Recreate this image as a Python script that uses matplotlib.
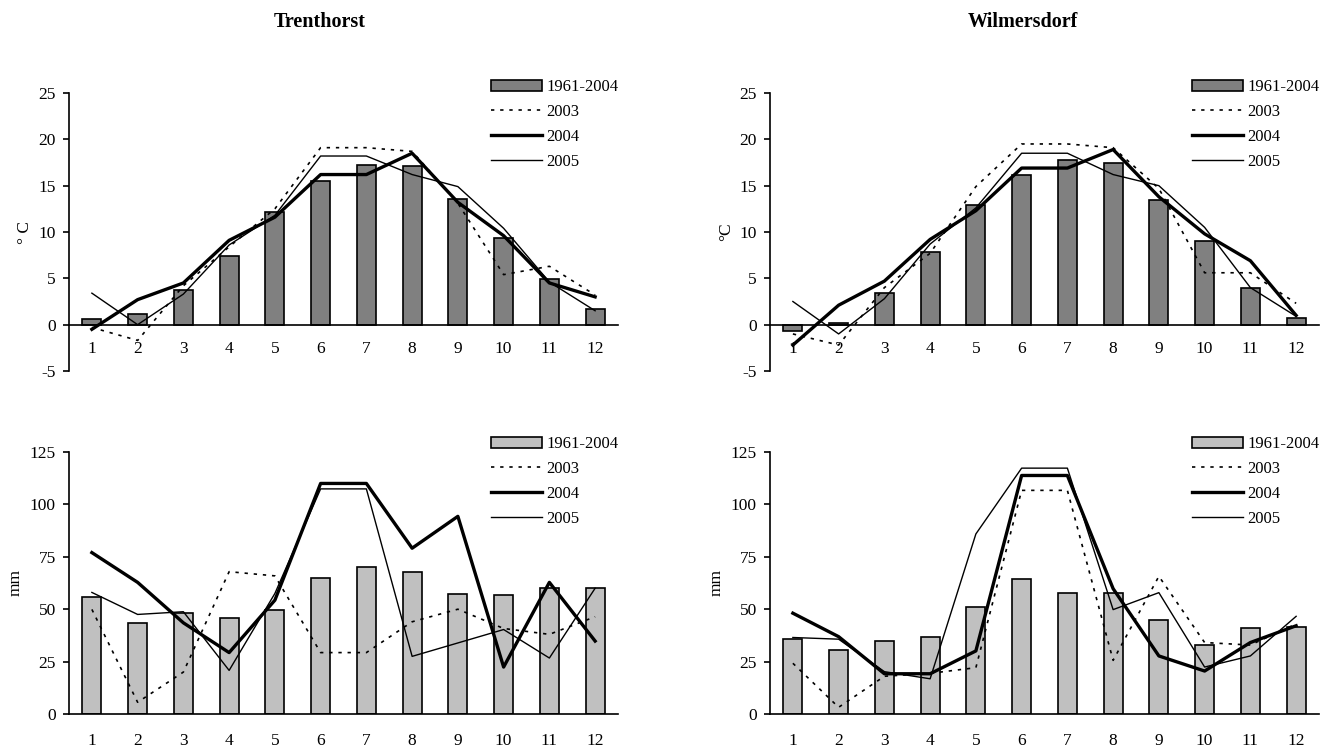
import numpy as np
import matplotlib
matplotlib.use("Agg")
import matplotlib.pyplot as plt

plt.rcParams["font.family"] = ["Liberation Serif", "DejaVu Serif"]
plt.rcParams["font.size"] = 12.5
plt.rcParams["axes.unicode_minus"] = False

# Monatswerte
months = list(range(1, 13))

# Temperatur (°C)
tre_temp_mean = [0.65, 1.1, 3.7, 7.4, 12.2, 15.5, 17.2, 17.1, 13.6, 9.3, 4.9, 1.7]
tre_temp_2003 = [-0.3, -1.7, 4.2, 8.4, 12.5, 19.1, 19.1, 18.7, 13.1, 5.4, 6.3, 3.2]
tre_temp_2004 = [-0.5, 2.7, 4.5, 9.1, 11.6, 16.2, 16.2, 18.5, 13.2, 9.6, 4.5, 3.0]
tre_temp_2005 = [3.4, 0.0, 3.3, 8.6, 11.8, 18.2, 18.2, 16.2, 14.9, 10.4, 4.6, 1.5]

wil_temp_mean = [-0.7, 0.2, 3.4, 7.8, 12.9, 16.2, 17.8, 17.5, 13.5, 9.0, 4.0, 0.75]
wil_temp_2003 = [-1.0, -2.2, 4.0, 7.7, 14.9, 19.5, 19.5, 19.1, 14.7, 5.6, 5.6, 2.3]
wil_temp_2004 = [-2.2, 2.1, 4.7, 9.2, 12.3, 16.9, 16.9, 18.9, 13.8, 9.8, 6.9, 1.0]
wil_temp_2005 = [2.5, -1.0, 2.8, 8.7, 12.6, 18.5, 18.5, 16.2, 15.0, 10.5, 4.0, 0.9]

# Niederschlag (mm)
tre_prec_mean = [56.0, 43.6, 48.4, 45.9, 49.4, 64.9, 70.3, 67.8, 57.4, 56.7, 59.9, 60.3]
tre_prec_2003 = [49.9, 5.6, 20.0, 67.9, 65.9, 29.3, 29.3, 44.0, 50.0, 40.8, 38.0, 46.4]
tre_prec_2004 = [77.0, 62.8, 43.5, 29.3, 54.3, 110.0, 110.0, 79.1, 94.3, 22.4, 62.8, 34.8]
tre_prec_2005 = [58.0, 47.5, 48.8, 20.8, 57.5, 107.4, 107.4, 27.5, 33.9, 40.3, 26.7, 60.0]

wil_prec_mean = [35.7, 30.4, 34.9, 36.9, 51.0, 64.3, 57.5, 57.7, 45.0, 33.0, 40.9, 41.3]
wil_prec_2003 = [24.2, 3.2, 18.0, 19.4, 22.1, 106.7, 106.7, 25.6, 65.7, 34.1, 32.9, 43.0]
wil_prec_2004 = [48.1, 36.9, 19.2, 19.2, 30.1, 113.8, 113.8, 59.8, 27.7, 20.5, 34.1, 42.1]
wil_prec_2005 = [36.5, 35.7, 20.2, 16.8, 85.9, 117.3, 117.3, 49.8, 57.9, 22.4, 27.7, 46.6]

W, H = 1322, 747
fig = plt.figure(figsize=(W / 100, H / 100), dpi=100)


def px_axes(x0, x1, ytop, ybot):
    return fig.add_axes([x0 / W, 1 - ybot / H, (x1 - x0) / W, (ybot - ytop) / H])


def panel(ax, mean, y03, y04, y05, barcolor, ylim, yticks, ylabel, top, leg_xy):
    b = ax.bar(months, mean, width=0.41, color=barcolor, edgecolor="black",
               linewidth=1.2, zorder=2)
    l3, = ax.plot(months, y03, color="black", linewidth=1.2,
                  linestyle=(0, (2, 3.5)), zorder=3)
    l4, = ax.plot(months, y04, color="black", linewidth=2.4, zorder=4)
    l5, = ax.plot(months, y05, color="black", linewidth=1.0, zorder=3)
    ax.set_xlim(0.5, 12.5)
    ax.set_ylim(*ylim)
    ax.set_yticks(yticks)
    ax.set_xticks(months)
    ax.spines["top"].set_visible(False)
    ax.spines["right"].set_visible(False)
    ax.spines["left"].set_linewidth(1.2)
    ax.spines["bottom"].set_linewidth(1.2)
    if top:
        ax.spines["bottom"].set_position(("data", 0))
        ax.tick_params(axis="x", length=0, pad=12)
    else:
        ax.tick_params(axis="x", length=0, pad=14)
    ax.tick_params(axis="y", length=4.5, width=1.2, pad=5)
    ax.set_ylabel(ylabel, fontsize=12.5)
    ax.legend([b, l3, l4, l5], ["1961-2004", "2003", "2004", "2005"],
              loc="upper left", bbox_to_anchor=(leg_xy[0] / W, 1 - leg_xy[1] / H),
              bbox_transform=fig.transFigure, frameon=False, fontsize=12,
              handlelength=3.06, handleheight=0.66, handletextpad=0.24,
              labelspacing=0.54, borderpad=0, borderaxespad=0)


ax1 = px_axes(69, 618, 93, 371)
panel(ax1, tre_temp_mean, tre_temp_2003, tre_temp_2004, tre_temp_2005,
      "#808080", (-5, 25), range(-5, 26, 5), "° C", True, (491, 79))
ax2 = px_axes(770, 1319, 93, 371)
panel(ax2, wil_temp_mean, wil_temp_2003, wil_temp_2004, wil_temp_2005,
      "#808080", (-5, 25), range(-5, 26, 5), "°C", True, (1192, 79))
ax3 = px_axes(69, 618, 452, 714)
panel(ax3, tre_prec_mean, tre_prec_2003, tre_prec_2004, tre_prec_2005,
      "#c0c0c0", (0, 125), range(0, 126, 25), "mm", False, (491, 436))
ax4 = px_axes(770, 1319, 452, 714)
panel(ax4, wil_prec_mean, wil_prec_2003, wil_prec_2004, wil_prec_2005,
      "#c0c0c0", (0, 125), range(0, 126, 25), "mm", False, (1192, 436))

fig.text(320 / W, 1 - 22 / H, "Trenthorst", ha="center", va="center",
         fontsize=14.5, fontweight="bold")
fig.text(1023 / W, 1 - 22 / H, "Wilmersdorf", ha="center", va="center",
         fontsize=14.5, fontweight="bold")

fig.savefig("out.png", dpi=100)
